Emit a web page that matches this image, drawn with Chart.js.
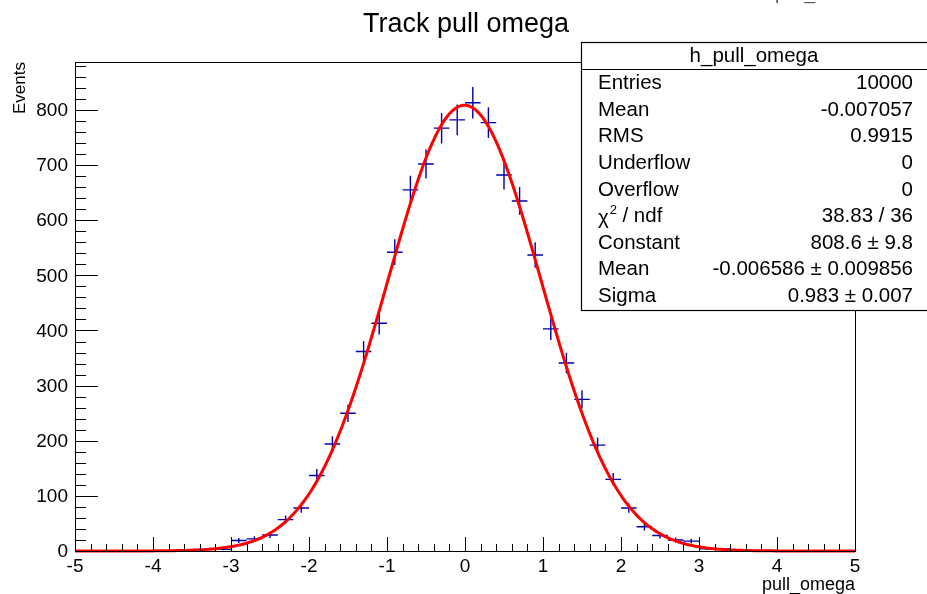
<!DOCTYPE html>
<html>
<head>
<meta charset="utf-8">
<script src="https://cdn.jsdelivr.net/npm/chart.js@4.4.1/dist/chart.umd.min.js"></script>
<style>
  html, body { margin: 0; padding: 0; background: #fff; }
  #wrap { width: 927px; height: 594px; position: relative; }
</style>
</head>
<body>
<div id="wrap"><canvas id="pullChart"></canvas></div>
<script>
// histogram h_pull_omega: 50 bins of width 0.2 between -5 and 5
var binCenters = [-4.9, -4.7, -4.5, -4.3, -4.1, -3.9, -3.7, -3.5, -3.3, -3.1,
                  -2.9, -2.7, -2.5, -2.3, -2.1, -1.9, -1.7, -1.5, -1.3, -1.1,
                  -0.9, -0.7, -0.5, -0.3, -0.1, 0.1, 0.3, 0.5, 0.7, 0.9,
                  1.1, 1.3, 1.5, 1.7, 1.9, 2.1, 2.3, 2.5, 2.7, 2.9,
                  3.1, 3.3, 3.5, 3.7, 3.9, 4.1, 4.3, 4.5, 4.7, 4.9];
var binCounts = [0, 0, 0, 0, 0, 0, 1, 1, 3, 3,
                 19, 22, 29, 57, 78, 137, 194, 250, 362, 413,
                 542, 655, 702, 767, 782, 813, 777, 682, 635, 537,
                 403, 341, 275, 192, 130, 78, 44, 28, 20, 18,
                 4, 4, 2, 1, 1, 0, 0, 0, 0, 0];
var binWidth = 0.2;

// gaus fit parameters from the stats box
var fitConstant = 808.6;
var fitMean = -0.006586;
var fitSigma = 0.983;

var xTickLabels = ['-5', '-4', '-3', '-2', '-1', '0', '1', '2', '3', '4', '5'];
var yTickLabels = ['0', '100', '200', '300', '400', '500', '600', '700', '800'];

var statsRows = [
  ['Entries', '10000'],
  ['Mean', '-0.007057'],
  ['RMS', '0.9915'],
  ['Underflow', '0'],
  ['Overflow', '0'],
  ['chi2', '38.83 / 36'],
  ['Constant', '808.6 \u00b1 9.8'],
  ['Mean', '-0.006586 \u00b1 0.009856'],
  ['Sigma', '0.983 \u00b1 0.007']
];

var FONT = '"Liberation Sans", Arial, Helvetica, sans-serif';

var histPoints = binCenters.map(function (x, i) { return { x: x, y: binCounts[i] }; });

var fitPoints = [];
for (var i = 0; i <= 400; i++) {
  var fx = -5 + i * 0.025;
  var z = (fx - fitMean) / fitSigma;
  fitPoints.push({ x: fx, y: fitConstant * Math.exp(-0.5 * z * z) });
}

// data crosses: bin width horizontally, sqrt(N) vertically
var errorCrosses = {
  id: 'errorCrosses',
  beforeDatasetsDraw: function (chart) {
    var c = chart.ctx, xs = chart.scales.x, ys = chart.scales.y;
    c.save();
    c.strokeStyle = '#0000a8';
    c.lineWidth = 1.4;
    c.beginPath();
    histPoints.forEach(function (p) {
      if (p.y <= 0) return;
      var err = Math.sqrt(p.y);
      var px = xs.getPixelForValue(p.x);
      var py = ys.getPixelForValue(p.y);
      c.moveTo(xs.getPixelForValue(p.x - binWidth / 2), py);
      c.lineTo(xs.getPixelForValue(p.x + binWidth / 2), py);
      c.moveTo(px, ys.getPixelForValue(p.y - err));
      c.lineTo(px, ys.getPixelForValue(p.y + err));
    });
    c.stroke();
    c.restore();
  }
};

// ROOT-like frame, inside ticks, labels, title and stats box
var rootDecor = {
  id: 'rootDecor',
  afterDraw: function (chart) {
    var c = chart.ctx, xs = chart.scales.x, ys = chart.scales.y, a = chart.chartArea;
    c.save();
    c.strokeStyle = '#000';
    c.lineWidth = 1;
    c.strokeRect(a.left + 0.5, a.top + 0.5, a.right - a.left, a.bottom - a.top);

    c.beginPath();
    for (var k = 0; k <= 50; k++) {
      var v = -5 + k * 0.2;
      var px = Math.round(xs.getPixelForValue(v)) + 0.5;
      var len = (k % 5 === 0) ? 14 : 7;
      c.moveTo(px, a.bottom);
      c.lineTo(px, a.bottom - len);
    }
    for (var m = 0; m <= 44; m++) {
      var yv = m * 20;
      var py = Math.round(ys.getPixelForValue(yv)) + 0.5;
      var ylen = (m % 5 === 0) ? 23 : 11;
      c.moveTo(a.left, py);
      c.lineTo(a.left + ylen, py);
    }
    c.stroke();

    c.fillStyle = '#000';
    c.font = '19px ' + FONT;
    c.textAlign = 'center';
    c.textBaseline = 'top';
    xTickLabels.forEach(function (t) {
      c.fillText(t, xs.getPixelForValue(parseFloat(t)), a.bottom + 6);
    });
    c.textAlign = 'right';
    c.textBaseline = 'middle';
    yTickLabels.forEach(function (t) {
      c.fillText(t, a.left - 7, ys.getPixelForValue(parseFloat(t)) + 1);
    });

    // axis titles
    c.font = '18px ' + FONT;
    c.textAlign = 'right';
    c.textBaseline = 'alphabetic';
    c.fillText('pull_omega', a.right, 590);
    c.save();
    c.translate(25, a.top);
    c.rotate(-Math.PI / 2);
    c.font = '17px ' + FONT;
    c.textAlign = 'right';
    c.fillText('Events', 0, 0);
    c.restore();

    // title
    c.font = '27px ' + FONT;
    c.textAlign = 'center';
    c.fillText('Track pull omega', 466, 32);

    // pad title, mostly cut off by the top edge
    c.fillStyle = '#555';
    c.font = '19px ' + FONT;
    c.textAlign = 'left';
    c.fillText('pull_om', 775, -1);

    // stats box
    var bx = 581, by = 42, bw = 360, bh = 268;
    c.fillStyle = '#fff';
    c.fillRect(bx, by, bw, bh);
    c.strokeStyle = '#000';
    c.lineWidth = 1.2;
    c.strokeRect(bx + 0.5, by + 0.5, bw, bh);
    c.beginPath();
    c.moveTo(bx, 69.5);
    c.lineTo(bx + bw, 69.5);
    c.stroke();

    c.fillStyle = '#000';
    c.font = '20.5px ' + FONT;
    c.textBaseline = 'middle';
    c.textAlign = 'center';
    c.fillText('h_pull_omega', 754, 56);
    statsRows.forEach(function (r, j) {
      var ry = 83.5 + j * 26.6;
      c.textAlign = 'left';
      if (r[0] === 'chi2') {
        c.font = '20.5px ' + FONT;
        c.fillText('\u03c7', 598, ry + 2);
        var w = c.measureText('\u03c7').width;
        c.font = '13px ' + FONT;
        c.fillText('2', 598 + w + 1, ry - 6);
        c.font = '20.5px ' + FONT;
        c.fillText(' / ndf', 598 + w + 8, ry);
      } else {
        c.font = '20.5px ' + FONT;
        c.fillText(r[0], 598, ry);
      }
      c.textAlign = 'right';
      c.fillText(r[1], 913, ry);
    });
    c.restore();
  }
};

var ctx = document.getElementById('pullChart').getContext('2d');
var pullChart = new Chart(ctx, {
  type: 'scatter',
  data: {
    datasets: [{
      label: 'gaus fit',
      data: fitPoints,
      showLine: true,
      borderColor: 'rgb(255, 0, 0)',
      borderWidth: 3,
      pointRadius: 0,
      tension: 0,
      clip: false
    }]
  },
  options: {
    responsive: true,
    maintainAspectRatio: false,
    animation: false,
    layout: { padding: { left: 75, top: 62, right: 72, bottom: 43 } },
    plugins: {
      legend: { display: false },
      tooltip: { enabled: false },
      title: { display: false }
    },
    scales: {
      x: { type: 'linear', min: -5, max: 5, display: false },
      y: { type: 'linear', min: 0, max: 887, display: false }
    }
  },
  plugins: [errorCrosses, rootDecor]
});
</script>
</body>
</html>
